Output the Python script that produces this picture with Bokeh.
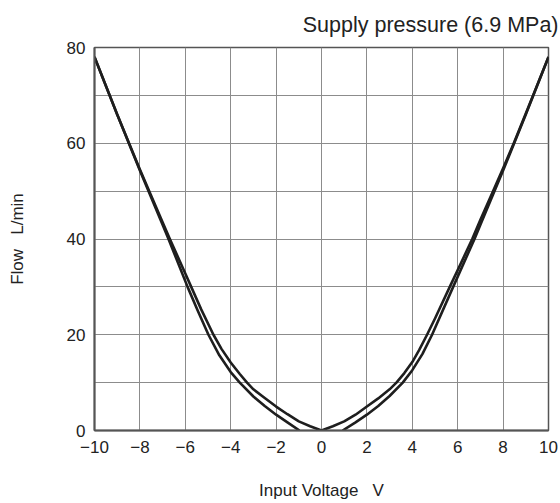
import math
from bokeh.plotting import figure
from bokeh.models import FixedTicker, Range1d
from bokeh.embed import file_html
from bokeh.resources import INLINE

# ---- data ----
x_ticks = [-10, -8, -6, -4, -2, 0, 2, 4, 6, 8, 10]
y_ticks = [0, 20, 40, 60, 80]
y_minor = [10, 30, 50, 70]
title_text = "Supply pressure (6.9 MPa)"

# curve A (passes through the origin)
volt_a = [-10, -9, -8, -7, -6.68, -6, -5.74, -5.3, -4.76, -4.4, -4, -3.6, -3.28, -3, -2.5, -2, -1.5, -1, -0.5, 0,
          0.5, 1, 1.5, 2, 2.5, 3, 3.3, 3.65, 4, 4.3, 4.65, 5, 5.65, 6, 6.64, 7, 7.56, 8, 8.47, 9, 10]
flow_a = [78, 66, 54.5, 43.5, 40, 32.8, 30, 25.3, 20, 17.0, 14.2, 11.8, 10, 8.6, 6.8, 5.0, 3.4, 1.9, 0.9, 0,
          0.9, 1.9, 3.3, 5.0, 6.7, 8.6, 10, 12.0, 14.3, 16.8, 20, 23.4, 30, 33.5, 40, 44, 50, 54.8, 60, 66.2, 78]

# curve B (dead band around zero), left and right branches
volt_b_left = [-10, -9, -8, -7, -6.74, -5.9, -5.45, -4.98, -4.5, -4, -3.6, -3, -2.5, -2, -1.5, -0.97]
flow_b_left = [78, 66, 54.3, 43.0, 40, 30, 25.0, 20, 15.7, 12.2, 10, 7.1, 5.1, 3.3, 1.7, 0]
volt_b_right = [0.93, 1.5, 2, 2.5, 3, 3.58, 4, 4.45, 4.87, 5.8, 6.74, 7, 8, 9, 10]
flow_b_right = [0, 1.7, 3.3, 5.1, 7.2, 10, 12.6, 16.0, 20, 30, 40, 43, 54.3, 66, 78]

FONT = "Liberation Sans"

p = figure(width=558, height=502, output_backend="svg", toolbar_location=None,
           x_range=Range1d(-10, 10), y_range=Range1d(0, 80),
           min_border_left=94, min_border_right=10, min_border_top=46, min_border_bottom=70)

p.title.text = title_text
p.title.align = "right"
p.title.text_font = FONT
p.title.text_font_size = "21.5px"
p.title.text_font_style = "normal"
p.title.text_color = "#222222"
p.title.text_line_height = 0.9
p.title.offset = -10
p.title.standoff = 21

p.xaxis.ticker = FixedTicker(ticks=x_ticks)
p.xaxis.major_label_overrides = {t: (("\u2212" + str(abs(t))) if t < 0 else str(t)) for t in x_ticks}
p.yaxis.ticker = FixedTicker(ticks=y_ticks, minor_ticks=y_minor)

for ax in (p.xaxis[0], p.yaxis[0]):
    ax.major_tick_in = 0
    ax.major_tick_out = 0
    ax.minor_tick_in = 0
    ax.minor_tick_out = 0
    ax.major_label_text_font = FONT
    ax.major_label_text_font_size = "17px"
    ax.major_label_text_color = "#222222"
    ax.axis_line_color = "#555555"
    ax.axis_line_width = 2
    ax.axis_label_text_font = FONT
    ax.axis_label_text_font_size = "17px"
    ax.axis_label_text_font_style = "normal"
    ax.axis_label_text_color = "#222222"

p.xaxis.axis_label = "Input Voltage\u00a0\u00a0\u00a0V"
p.yaxis.axis_label = "Flow\u00a0\u00a0\u00a0L/min"
p.xaxis.major_label_standoff = 10
p.yaxis.major_label_standoff = 9
p.xaxis.axis_label_standoff = 25
p.yaxis.axis_label_standoff = 37

p.xgrid.grid_line_color = "#8c8c8c"
p.ygrid.grid_line_color = "#8c8c8c"
p.ygrid.minor_grid_line_color = "#8c8c8c"
p.xgrid.grid_line_width = 1
p.ygrid.grid_line_width = 1
p.ygrid.minor_grid_line_width = 1

p.outline_line_color = "#555555"
p.outline_line_width = 1.5
p.background_fill_color = "white"
p.border_fill_color = "white"

curve_color = "#1e1e1e"
p.line(volt_a, flow_a, line_color=curve_color, line_width=2.6, line_join="round")
p.line(volt_b_left + [math.nan] + volt_b_right, flow_b_left + [math.nan] + flow_b_right,
       line_color=curve_color, line_width=2.6, line_join="round")

open("out.html", "w").write(file_html(p, INLINE))
